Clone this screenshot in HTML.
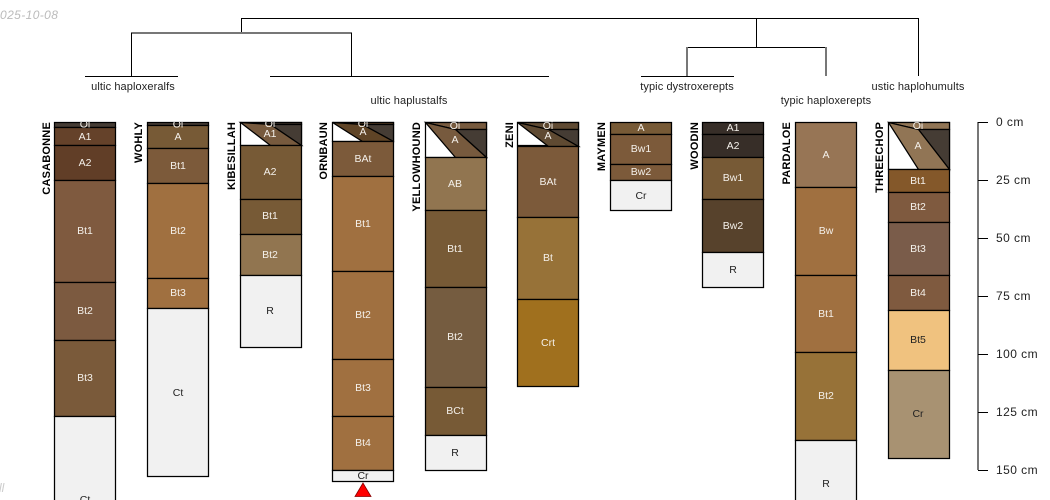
<!DOCTYPE html>
<html><head><meta charset="utf-8"><style>
html,body{margin:0;padding:0;background:#fff;width:1050px;height:500px;overflow:hidden}
svg{display:block}
text{font-family:"Liberation Sans",sans-serif;font-size:10.5px}
.w{fill:#f4f0ea;text-anchor:middle;dominant-baseline:central}
.k{fill:#222;text-anchor:middle;dominant-baseline:central}
.t{fill:#222;text-anchor:middle;font-size:11px;letter-spacing:.1px}
.n{fill:#000;font-weight:bold;font-size:11px;letter-spacing:.2px;text-anchor:end}
.a{fill:#222;font-size:12px;letter-spacing:.45px}
rect,polygon{stroke:#000;stroke-width:1.25}
line{stroke:#000;stroke-width:1;shape-rendering:crispEdges}
</style></head><body>
<svg width="1050" height="500" viewBox="0 0 1050 500" xmlns="http://www.w3.org/2000/svg">
<defs><clipPath id="c"><rect x="0" y="122" width="1050" height="6" style="stroke:none"/></clipPath></defs>
<text x="0" y="19" style="fill:#bbb;font-style:italic;font-size:12px;letter-spacing:.4px">025-10-08</text>
<text x="-1" y="492" style="fill:#ccc;font-style:italic;font-size:12px">ll</text>

<!-- dendrogram -->
<g>
<line x1="241" y1="18.5" x2="919" y2="18.5"/>
<line x1="241.5" y1="18" x2="241.5" y2="33"/>
<line x1="131" y1="33" x2="352" y2="33" style="stroke:#777;stroke-width:2"/>
<line x1="131.5" y1="33" x2="131.5" y2="76"/>
<line x1="351.5" y1="33" x2="351.5" y2="76"/>
<line x1="85" y1="76.5" x2="178" y2="76.5"/>
<line x1="270" y1="76.5" x2="549" y2="76.5"/>
<line x1="756.5" y1="18" x2="756.5" y2="47"/>
<line x1="687" y1="47.5" x2="827" y2="47.5"/>
<line x1="687" y1="47" x2="687" y2="76" style="stroke:#777;stroke-width:2"/>
<line x1="826" y1="47" x2="826" y2="76" style="stroke:#777;stroke-width:2"/>
<line x1="641" y1="76.5" x2="734" y2="76.5"/>
<line x1="918.5" y1="18" x2="918.5" y2="76"/>
</g>
<text class="t" x="133" y="90">ultic haploxeralfs</text>
<text class="t" x="409" y="104">ultic haplustalfs</text>
<text class="t" x="687" y="90">typic dystroxerepts</text>
<text class="t" x="826" y="104">typic haploxerepts</text>
<text class="t" x="918" y="90">ustic haplohumults</text>

<!-- CASABONNE -->
<text class="n" transform="translate(50,122) rotate(-90)">CASABONNE</text>
<rect x="54.5" y="122.5" width="61" height="5" fill="#453c34"/>
<rect x="54.5" y="127.5" width="61" height="18" fill="#65422a"/><text class="w" x="85" y="137">A1</text>
<text class="w" x="85" y="124.5" clip-path="url(#c)">Oi</text>
<rect x="54.5" y="145.5" width="61" height="35" fill="#613e27"/><text class="w" x="85" y="163">A2</text>
<rect x="54.5" y="180.5" width="61" height="102" fill="#7f5a3f"/><text class="w" x="85" y="231">Bt1</text>
<rect x="54.5" y="282.5" width="61" height="58" fill="#7c5a40"/><text class="w" x="85" y="311">Bt2</text>
<rect x="54.5" y="340.5" width="61" height="76" fill="#7a5a3a"/><text class="w" x="85" y="378">Bt3</text>
<rect x="54.5" y="416.5" width="61" height="100" fill="#f1f1f1"/><text class="k" x="85" y="500">Ct</text>

<!-- WOHLY -->
<text class="n" transform="translate(142,122) rotate(-90)">WOHLY</text>
<rect x="147.5" y="122.5" width="61" height="3" fill="#453c34"/>
<rect x="147.5" y="125.5" width="61" height="23" fill="#775a36"/><text class="w" x="178" y="137">A</text>
<text class="w" x="178" y="124.5" clip-path="url(#c)">Oi</text>
<rect x="147.5" y="148.5" width="61" height="35" fill="#7c5a3a"/><text class="w" x="178" y="166">Bt1</text>
<rect x="147.5" y="183.5" width="61" height="95" fill="#a07040"/><text class="w" x="178" y="231">Bt2</text>
<rect x="147.5" y="278.5" width="61" height="30" fill="#a07040"/><text class="w" x="178" y="293">Bt3</text>
<rect x="147.5" y="308.5" width="61" height="168" fill="#f1f1f1"/><text class="k" x="178" y="393">Ct</text>

<!-- KIBESILLAH -->
<text class="n" transform="translate(235,122) rotate(-90)">KIBESILLAH</text>
<rect x="240.5" y="122.5" width="61" height="23" fill="#fff"/>
<polygon points="240.5,122.5 301.5,122.5 301.5,124.5 270.5,124.5" fill="#3f352c"/>
<polygon points="270.5,124.5 301.5,124.5 301.5,145.5" fill="#453c34"/>
<polygon points="240.5,122.5 270.5,124.5 301.5,145.5 270.5,145.5" fill="#775a3e"/>
<text class="w" x="270" y="124" clip-path="url(#c)">Oi</text><text class="w" x="270" y="134">A1</text>
<rect x="240.5" y="145.5" width="61" height="54" fill="#775a36"/><text class="w" x="270" y="172">A2</text>
<rect x="240.5" y="199.5" width="61" height="35" fill="#775a36"/><text class="w" x="270" y="216">Bt1</text>
<rect x="240.5" y="234.5" width="61" height="41" fill="#917550"/><text class="w" x="270" y="255">Bt2</text>
<rect x="240.5" y="275.5" width="61" height="72" fill="#f1f1f1"/><text class="k" x="270" y="311">R</text>

<!-- ORNBAUN -->
<text class="n" transform="translate(327,122) rotate(-90)">ORNBAUN</text>
<rect x="332.5" y="122.5" width="61" height="19" fill="#fff"/>
<polygon points="332.5,122.5 393.5,122.5 393.5,124.5 362.5,124.5" fill="#5a3f24"/>
<polygon points="362.5,124.5 393.5,124.5 393.5,141.5" fill="#453c34"/>
<polygon points="332.5,122.5 362.5,124.5 393.5,141.5 362.5,141.5" fill="#5f4426"/>
<text class="w" x="363" y="124" clip-path="url(#c)">Oi</text><text class="w" x="363" y="132">A</text>
<rect x="332.5" y="141.5" width="61" height="35" fill="#7c5a3a"/><text class="w" x="363" y="159">BAt</text>
<rect x="332.5" y="176.5" width="61" height="95" fill="#a07040"/><text class="w" x="363" y="224">Bt1</text>
<rect x="332.5" y="271.5" width="61" height="88" fill="#a07040"/><text class="w" x="363" y="315">Bt2</text>
<rect x="332.5" y="359.5" width="61" height="57" fill="#a07040"/><text class="w" x="363" y="388">Bt3</text>
<rect x="332.5" y="416.5" width="61" height="54" fill="#a07040"/><text class="w" x="363" y="443">Bt4</text>
<rect x="332.5" y="470.5" width="61" height="11" fill="#f1f1f1"/><text class="k" x="363" y="476">Cr</text>
<polygon points="363,483 355,496.5 371,496.5" fill="#f00" style="stroke:#800;stroke-width:.8"/>

<!-- YELLOWHOUND -->
<text class="n" transform="translate(420,122) rotate(-90)">YELLOWHOUND</text>
<rect x="425.5" y="122.5" width="61" height="35" fill="#fff"/>
<polygon points="425.5,122.5 486.5,122.5 486.5,129.5 455.5,129.5" fill="#775a3e"/>
<polygon points="455.5,129.5 486.5,129.5 486.5,157.5" fill="#453c34"/>
<polygon points="425.5,122.5 455.5,129.5 486.5,157.5 455.5,157.5" fill="#775a3e"/>
<text class="w" x="455" y="126">Oi</text><text class="w" x="455" y="140">A</text>
<rect x="425.5" y="157.5" width="61" height="53" fill="#917550"/><text class="w" x="455" y="184">AB</text>
<rect x="425.5" y="210.5" width="61" height="77" fill="#775a36"/><text class="w" x="455" y="249">Bt1</text>
<rect x="425.5" y="287.5" width="61" height="100" fill="#755c40"/><text class="w" x="455" y="337">Bt2</text>
<rect x="425.5" y="387.5" width="61" height="48" fill="#775a36"/><text class="w" x="455" y="411">BCt</text>
<rect x="425.5" y="435.5" width="61" height="35" fill="#f1f1f1"/><text class="k" x="455" y="453">R</text>

<!-- ZENI -->
<text class="n" transform="translate(513,122) rotate(-90)">ZENI</text>
<rect x="517.5" y="122.5" width="61" height="23" fill="#fff"/>
<polygon points="517.5,122.5 578.5,122.5 578.5,129.5 548.5,129.5" fill="#5f4a32"/>
<polygon points="548.5,129.5 578.5,129.5 578.5,146.5" fill="#453c34"/>
<polygon points="517.5,122.5 548.5,129.5 578.5,146.5 548.5,146.5" fill="#5f4a32"/>
<text class="w" x="548" y="126">Oi</text><text class="w" x="548" y="136">A</text>
<rect x="517.5" y="146.5" width="61" height="71" fill="#7c5a3a"/><text class="w" x="548" y="182">BAt</text>
<rect x="517.5" y="217.5" width="61" height="82" fill="#977238"/><text class="w" x="548" y="258">Bt</text>
<rect x="517.5" y="299.5" width="61" height="87" fill="#a0701e"/><text class="w" x="548" y="343">Crt</text>

<!-- MAYMEN -->
<text class="n" transform="translate(605,122) rotate(-90)">MAYMEN</text>
<rect x="610.5" y="122.5" width="61" height="12" fill="#775a36"/><text class="w" x="641" y="128">A</text>
<rect x="610.5" y="134.5" width="61" height="30" fill="#7c5a3a"/><text class="w" x="641" y="149">Bw1</text>
<rect x="610.5" y="164.5" width="61" height="16" fill="#7c5a3a"/><text class="w" x="641" y="172">Bw2</text>
<rect x="610.5" y="180.5" width="61" height="30" fill="#f1f1f1"/><text class="k" x="641" y="196">Cr</text>

<!-- WOODIN -->
<text class="n" transform="translate(698,122) rotate(-90)">WOODIN</text>
<rect x="702.5" y="122.5" width="61" height="12" fill="#372e28"/><text class="w" x="733" y="128">A1</text>
<rect x="702.5" y="134.5" width="61" height="23" fill="#372e28"/><text class="w" x="733" y="146">A2</text>
<rect x="702.5" y="157.5" width="61" height="42" fill="#775a36"/><text class="w" x="733" y="178">Bw1</text>
<rect x="702.5" y="199.5" width="61" height="53" fill="#57422c"/><text class="w" x="733" y="226">Bw2</text>
<rect x="702.5" y="252.5" width="61" height="35" fill="#f1f1f1"/><text class="k" x="733" y="270">R</text>

<!-- PARDALOE -->
<text class="n" transform="translate(790,122) rotate(-90)">PARDALOE</text>
<rect x="795.5" y="122.5" width="61" height="65" fill="#977555"/><text class="w" x="826" y="155">A</text>
<rect x="795.5" y="187.5" width="61" height="88" fill="#a07040"/><text class="w" x="826" y="231">Bw</text>
<rect x="795.5" y="275.5" width="61" height="77" fill="#a07040"/><text class="w" x="826" y="314">Bt1</text>
<rect x="795.5" y="352.5" width="61" height="88" fill="#977238"/><text class="w" x="826" y="396">Bt2</text>
<rect x="795.5" y="440.5" width="61" height="80" fill="#f1f1f1"/><text class="k" x="826" y="484">R</text>

<!-- THREECHOP -->
<text class="n" transform="translate(883,122) rotate(-90)">THREECHOP</text>
<rect x="888.5" y="122.5" width="61" height="47" fill="#fff"/>
<polygon points="888.5,122.5 949.5,122.5 949.5,129.5 918.5,129.5" fill="#917555"/>
<polygon points="918.5,129.5 949.5,129.5 949.5,169.5" fill="#453c34"/>
<polygon points="888.5,122.5 918.5,129.5 949.5,169.5 918.5,169.5" fill="#917555"/>
<text class="w" x="918" y="126">Oi</text><text class="w" x="918" y="146">A</text>
<rect x="888.5" y="169.5" width="61" height="23" fill="#84582a"/><text class="w" x="918" y="181">Bt1</text>
<rect x="888.5" y="192.5" width="61" height="30" fill="#7f5a3f"/><text class="w" x="918" y="207">Bt2</text>
<rect x="888.5" y="222.5" width="61" height="53" fill="#7a5c4a"/><text class="w" x="918" y="249">Bt3</text>
<rect x="888.5" y="275.5" width="61" height="35" fill="#7f5a3f"/><text class="w" x="918" y="293">Bt4</text>
<rect x="888.5" y="310.5" width="61" height="60" fill="#f0c27f"/><text class="k" x="918" y="340">Bt5</text>
<rect x="888.5" y="370.5" width="61" height="88" fill="#a89272"/><text class="k" x="918" y="414">Cr</text>

<!-- axis -->
<line x1="978" y1="122" x2="978" y2="470" style="stroke:#777;stroke-width:2"/>
<line x1="978" y1="122.5" x2="988" y2="122.5"/>
<line x1="978" y1="180.5" x2="988" y2="180.5"/>
<line x1="978" y1="238.5" x2="988" y2="238.5"/>
<line x1="978" y1="296.5" x2="988" y2="296.5"/>
<line x1="978" y1="354.5" x2="988" y2="354.5"/>
<line x1="978" y1="412.5" x2="988" y2="412.5"/>
<line x1="978" y1="470.5" x2="988" y2="470.5"/>
<text class="a" x="996" y="126">0 cm</text>
<text class="a" x="996" y="184">25 cm</text>
<text class="a" x="996" y="242">50 cm</text>
<text class="a" x="996" y="300">75 cm</text>
<text class="a" x="996" y="358">100 cm</text>
<text class="a" x="996" y="416">125 cm</text>
<text class="a" x="996" y="474">150 cm</text>
</svg>
</body></html>
